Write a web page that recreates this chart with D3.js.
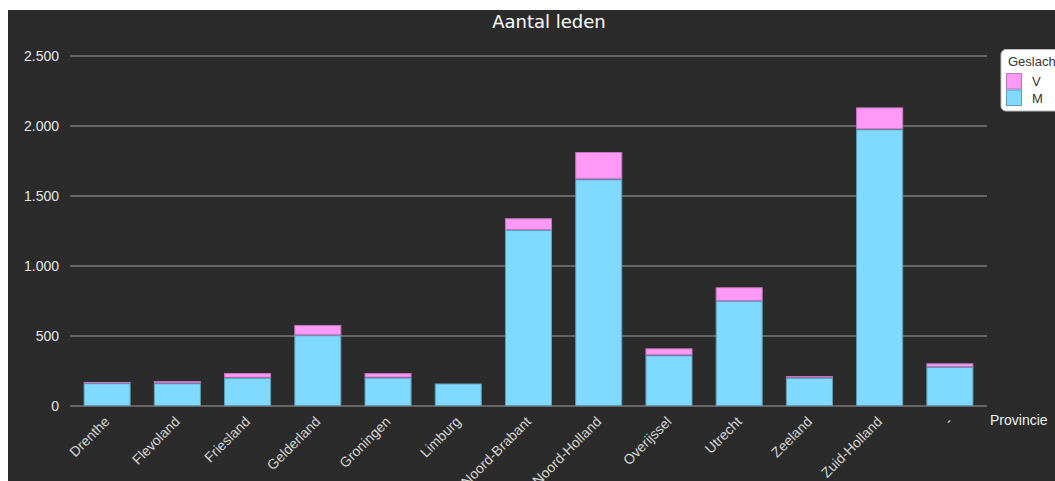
<!DOCTYPE html>
<html><head><meta charset="utf-8">
<script src="https://cdn.jsdelivr.net/npm/d3@7"></script>
<style>
html,body{margin:0;padding:0;background:#fff;}
svg{display:block;font-family:"Liberation Sans",Arial,sans-serif;}
</style></head>
<body>
<svg id="c" width="1055" height="481"></svg>
<script>
const provinces = ["Drenthe","Flevoland","Friesland","Gelderland","Groningen","Limburg","Noord-Brabant","Noord-Holland","Overijssel","Utrecht","Zeeland","Zuid-Holland","-"];
const valuesM = [163,162,202,505,203,161,1257,1619,362,750,202,1976,279];
const valuesV = [9,16,34,74,32,1,84,195,50,98,12,157,26];
const yTicks = [0,500,1000,1500,2000,2500];
const seriesNames = ["V","M"];
const colors = {M:"#80d9ff", V:"#ff99f7"};
const strokes = {M:"#5f9fb5", V:"#c276c2"};

const svg = d3.select("#c");
svg.append("rect").attr("x",8).attr("y",10).attr("width",1047).attr("height",471).attr("fill","#2b2b2b");

const x = d3.scaleBand().domain(provinces).range([72,985]).paddingInner(0.33).paddingOuter(0.165);
const y = d3.scaleLinear().domain([0,2500]).range([406,56]);
const fmt = d3.format(",");
const nl = v => fmt(v).replace(/,/g,".");

// gridlines
svg.append("g").selectAll("line").data(yTicks).join("line")
  .attr("x1",70).attr("x2",987).attr("y1",d=>y(d)).attr("y2",d=>y(d))
  .attr("stroke","#7a7a7a").attr("stroke-width",1.3);

// y axis labels
const yAxis = d3.axisLeft(y).tickValues(yTicks).tickFormat(nl).tickSize(0).tickPadding(0);
const ga = svg.append("g").attr("transform","translate(59,0)").call(yAxis);
ga.select(".domain").remove();
ga.selectAll("text").attr("fill","#e6e6e6").attr("font-size",14).attr("font-family","Liberation Sans");

// stacked bars
const rows = provinces.map((p,i)=>({p, M:valuesM[i], V:valuesV[i]}));
const stack = d3.stack().keys(["M","V"])(rows);
svg.append("g").selectAll("g").data(stack).join("g")
  .attr("fill",s=>colors[s.key]).attr("stroke",s=>strokes[s.key]).attr("stroke-width",1)
  .selectAll("rect").data(s=>s).join("rect")
  .attr("x",d=>x(d.data.p)+0.5).attr("width",x.bandwidth()-1)
  .attr("y",d=>y(d[1])+0.5).attr("height",d=>Math.max(0,y(d[0])-y(d[1])-1));

// x axis labels
const xAxis = d3.axisBottom(x).tickSize(0).tickPadding(0);
const gx = svg.append("g").attr("transform","translate(0,406)").call(xAxis);
gx.select(".domain").remove();
gx.selectAll("text")
  .attr("fill","#d4d4d4").attr("font-size",14).attr("font-family","Liberation Sans")
  .attr("text-anchor","end").attr("dy","0.35em")
  .attr("transform","translate(0,13) rotate(-45)");

// axis title
svg.append("text").attr("x",990).attr("y",425).attr("fill","#f0f0f0")
  .attr("font-size",14).text("Provincie");

// chart title
svg.append("text").attr("x",549).attr("y",28).attr("text-anchor","middle")
  .attr("fill","#ffffff").attr("font-size",18).attr("font-family","DejaVu Sans").text("Aantal leden");

// legend
const lg = svg.append("g");
lg.append("rect").attr("x",1001).attr("y",49.5).attr("width",80).attr("height",61.5).attr("rx",5)
  .attr("fill","#ffffff").attr("stroke","#bbbbbb");
lg.append("text").attr("x",1008).attr("y",66).attr("fill","#333").attr("font-size",13).text("Geslacht");
seriesNames.forEach((k,i)=>{
  lg.append("rect").attr("x",1006.5).attr("y",73.5+i*16.5).attr("width",15).attr("height",15.5)
    .attr("fill",colors[k]).attr("stroke",strokes[k]);
  lg.append("text").attr("x",1032).attr("y",86+i*16.5).attr("fill","#333").attr("font-size",13).text(k);
});
</script>
</body></html>
